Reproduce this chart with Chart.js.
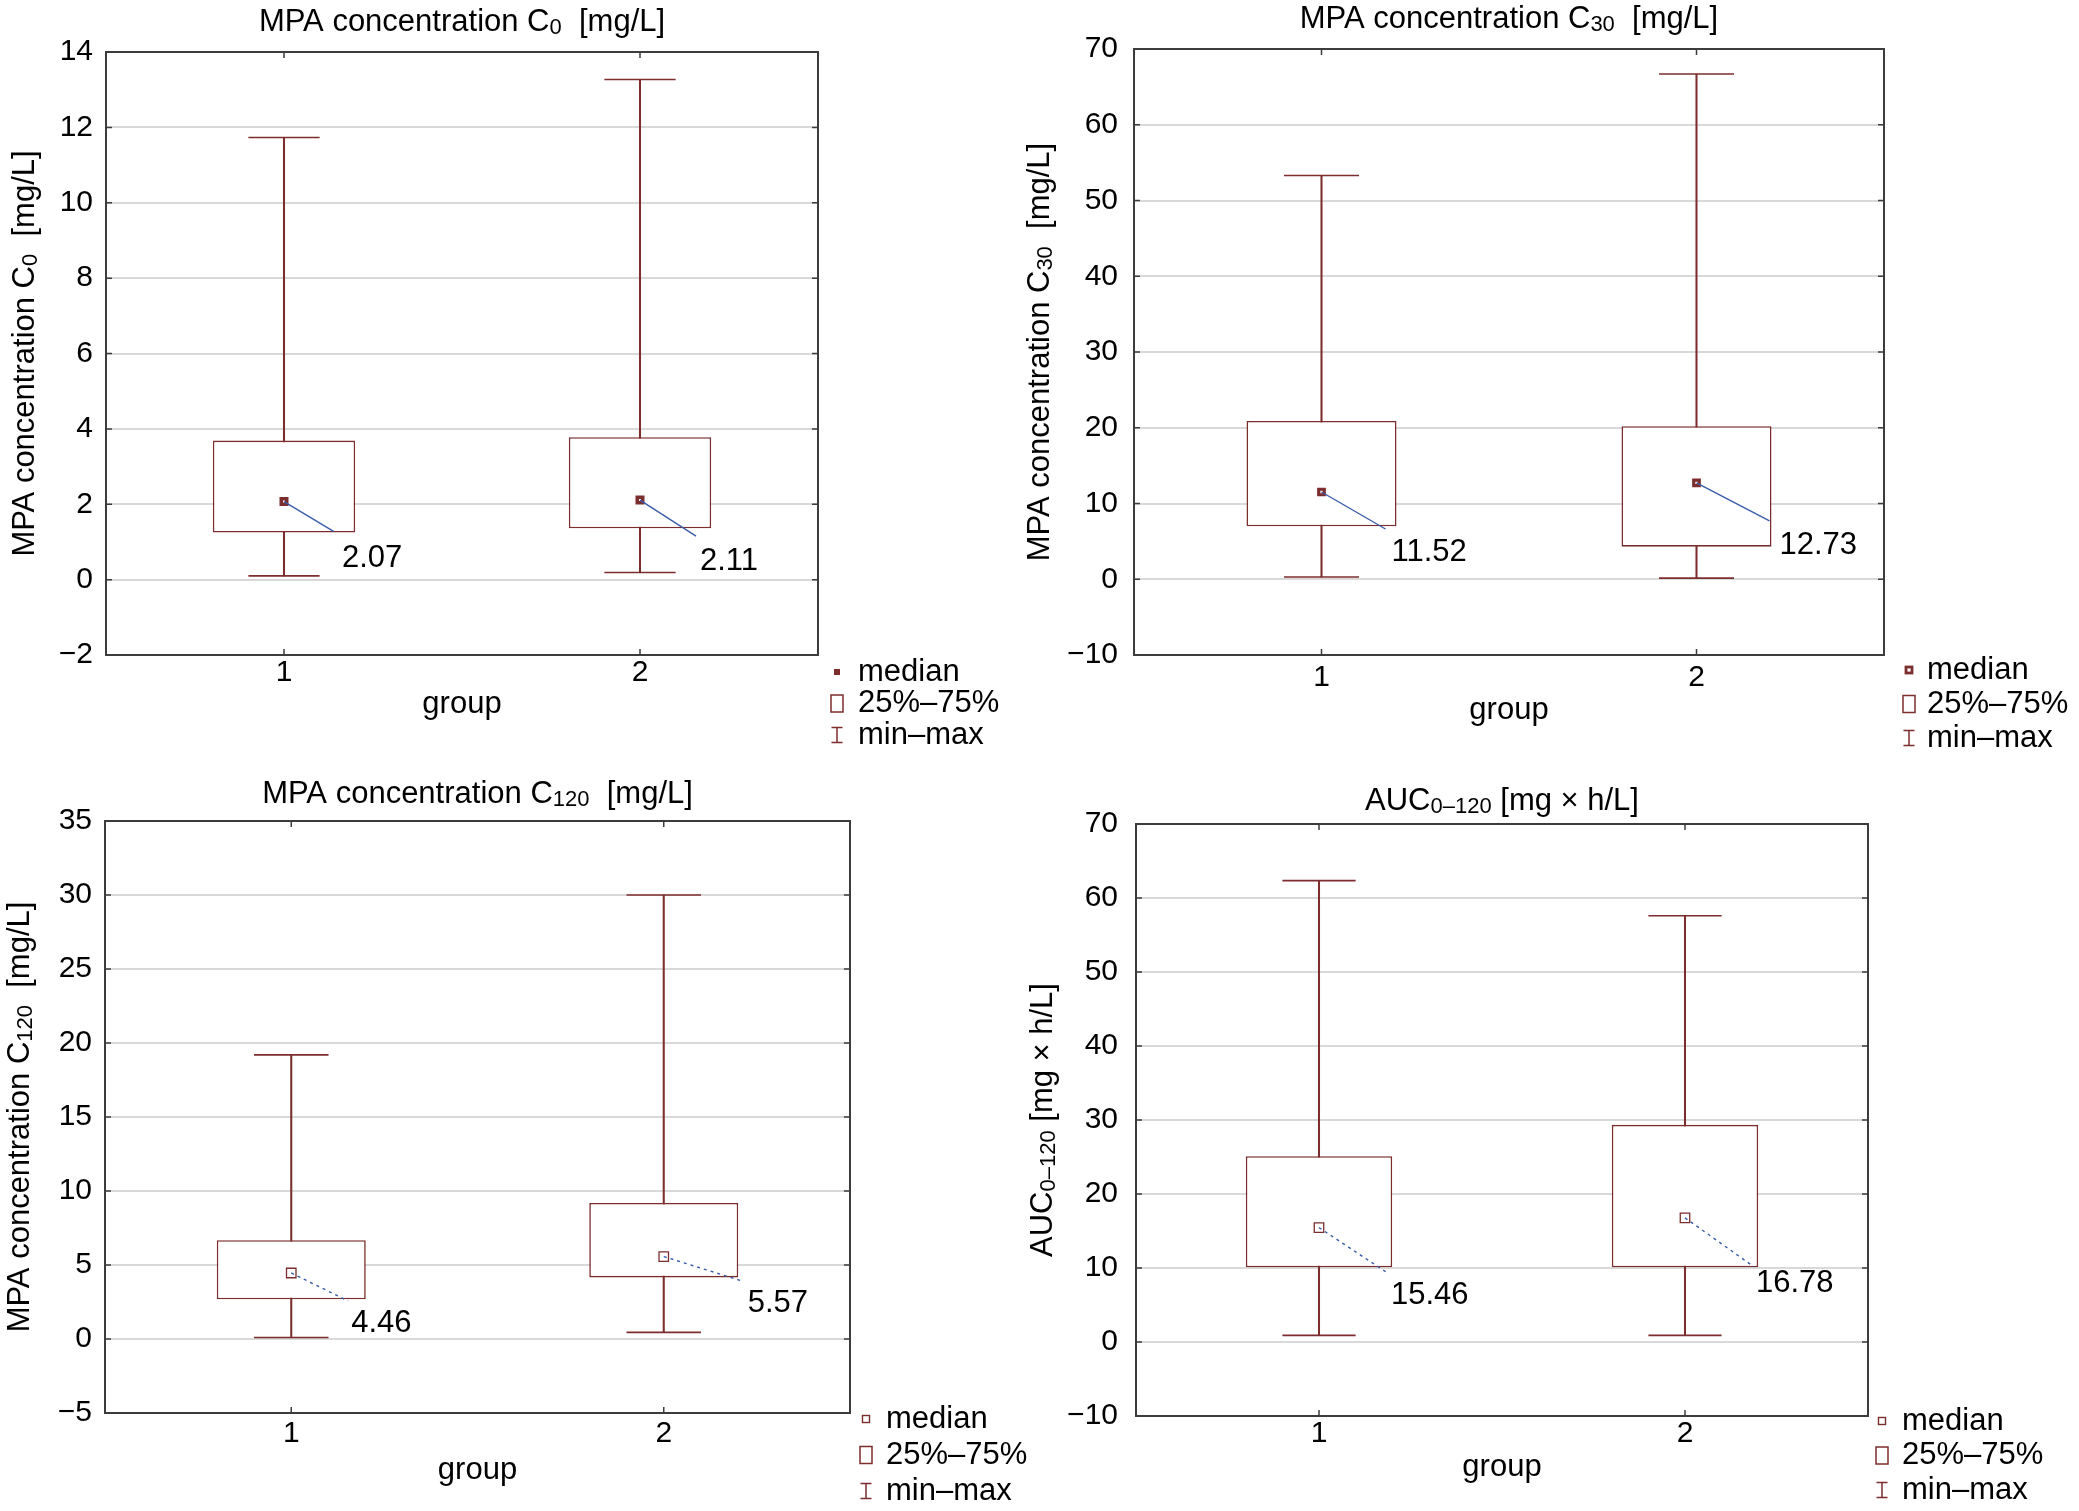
<!DOCTYPE html>
<html>
<head>
<meta charset="utf-8">
<script src="https://cdn.jsdelivr.net/npm/chart.js@4.4.1/dist/chart.umd.min.js"></script>
<style>
html,body{margin:0;padding:0;background:#fff;}
body{width:2079px;height:1511px;position:relative;overflow:hidden;}
canvas{position:absolute;display:block;}
</style>
</head>
<body>
<canvas id="c1" width="1015" height="760" style="left:0;top:0"></canvas>
<canvas id="c2" width="1064" height="760" style="left:1015px;top:0"></canvas>
<canvas id="c3" width="1040" height="751" style="left:0;top:760px"></canvas>
<canvas id="c4" width="1064" height="751" style="left:1015px;top:760px"></canvas>
<script>
// ---------------- DATA ----------------
const groups = ['1', '2'];
const legendLabels = ['median', '25%–75%', 'min–max'];
const xAxisTitle = 'group';

// title pieces: [text, isSubscript]
const c0Title = [['MPA concentration C', false], ['0', true], ['  [mg/L]', false]];
const c0Min = [0.10, 0.19];
const c0Q1 = [1.25, 1.36];
const c0Median = [2.07, 2.11];
const c0Q3 = [3.69, 3.78];
const c0Max = [11.73, 13.27];
const c0YTicks = [-2, 0, 2, 4, 6, 8, 10, 12, 14];

const c30Title = [['MPA concentration C', false], ['30', true], ['  [mg/L]', false]];
const c30Min = [0.30, 0.15];
const c30Q1 = [7.0, 4.3];
const c30Median = [11.52, 12.73];
const c30Q3 = [20.9, 20.2];
const c30Max = [53.3, 66.7];
const c30YTicks = [-10, 0, 10, 20, 30, 40, 50, 60, 70];

const c120Title = [['MPA concentration C', false], ['120', true], ['  [mg/L]', false]];
const c120Min = [0.10, 0.45];
const c120Q1 = [2.68, 4.16];
const c120Median = [4.46, 5.57];
const c120Q3 = [6.68, 9.19];
const c120Max = [19.2, 30.0];
const c120YTicks = [-5, 0, 5, 10, 15, 20, 25, 30, 35];

const aucTitle = [['AUC', false], ['0–120', true], [' [mg × h/L]', false]];
const aucMin = [0.9, 0.9];
const aucQ1 = [10.1, 10.1];
const aucMedian = [15.46, 16.78];
const aucQ3 = [25.1, 29.35];
const aucMax = [62.35, 57.6];
const aucYTicks = [-10, 0, 10, 20, 30, 40, 50, 60, 70];

// ---------------- STYLE ----------------
const FONT = '"Liberation Sans", Arial, "DejaVu Sans", sans-serif';
const FS = 31;
const TICK_FS = 30;
const SUB_FS = 22;
const SUB_SHIFT = 3;
const DARK_RED = '#7c2d2d';
const BLUE = '#3a5ca8';
const GRID = '#d9d9d9';
const FRAME = '#3c3c3c';
const BOX_PCT = 0.4;

Chart.defaults.font.family = FONT;
Chart.defaults.font.size = FS;
Chart.defaults.color = '#000';

const styles = {
  c1: {padT: 52, padR: 197, titleY: 20, yW: 106, yTitleX: 23, yTickPad: 13, xH: 105, xTickPad: 0, xTitlePad: 37,
       medR: 3.9, medBW: 3.5, medIcon: 'filled', dash: [], leaders: [[50, 30, 8, 27], [56, 36, 4, 25]],
       legend: {iconDx: 19, textDx: 40, rowDy: 17, rowStep: 31.5}},
  c2: {padT: 49, padR: 195, titleY: 16.5, yW: 119, yTitleX: 23, yTickPad: 16, xH: 105, xTickPad: 5, xTitlePad: 31,
       medR: 3.9, medBW: 3.2, medIcon: 'hollowThick', dash: [], leaders: [[64, 37, 6, 23], [73, 38, 10, 25]],
       legend: {iconDx: 25, textDx: 43, rowDy: 15, rowStep: 34}},
  c3: {padT: 61, padR: 190, titleY: 32, yW: 105, yTitleX: 18, yTickPad: 13, xH: 98, xTickPad: 3, xTitlePad: 22,
       medR: 6.7, medBW: 1.3, medIcon: 'hollow', dash: [3, 4], leaders: [[57, 28, 3, 22], [77, 24, 7, 23]],
       legend: {iconDx: 16, textDx: 36, rowDy: 6, rowStep: 36}},
  c4: {padT: 64, padR: 211, titleY: 39, yW: 121, yTitleX: 26, yTickPad: 18, xH: 95, xTickPad: 0, xTitlePad: 25,
       medR: 6.7, medBW: 1.3, medIcon: 'hollow', dash: [3, 4], leaders: [[68, 45, 4, 23], [69, 49, 2, 17]],
       legend: {iconDx: 14, textDx: 34, rowDy: 5, rowStep: 34.5}}
};

// ---------------- HELPERS ----------------
function drawRich(ctx, parts, cx, cy, rotation) {
  ctx.save();
  ctx.translate(cx, cy);
  ctx.rotate(rotation);
  const fonts = parts.map(p => (p[1] ? SUB_FS : FS) + 'px ' + FONT);
  const widths = parts.map((p, i) => { ctx.font = fonts[i]; return ctx.measureText(p[0]).width; });
  const total = widths.reduce((a, b) => a + b, 0);
  let x = -total / 2;
  const base = FS * 0.358;
  ctx.fillStyle = '#000';
  ctx.textAlign = 'left';
  ctx.textBaseline = 'alphabetic';
  parts.forEach((p, i) => {
    ctx.font = fonts[i];
    ctx.fillText(p[0], x, base + (p[1] ? SUB_SHIFT : 0));
    x += widths[i];
  });
  ctx.restore();
}

// ---------------- PLUGINS ----------------
const titlesPlugin = {
  id: 'richTitles',
  afterDraw(chart, args, opts) {
    const {ctx, chartArea: a} = chart;
    drawRich(ctx, opts.parts, (a.left + a.right) / 2, opts.titleY, 0);
    drawRich(ctx, opts.parts, opts.yTitleX, (a.top + a.bottom) / 2, -Math.PI / 2);
  }
};

const framePlugin = {
  id: 'frame',
  afterDraw(chart) {
    const {ctx, chartArea: a} = chart;
    const x = chart.scales.x, y = chart.scales.y;
    const TL = 6;
    ctx.save();
    ctx.strokeStyle = FRAME;
    ctx.lineWidth = 1.5;
    ctx.beginPath();
    y.ticks.forEach((t, i) => {
      const py = y.getPixelForTick(i);
      ctx.moveTo(a.left, py); ctx.lineTo(a.left + TL, py);
      ctx.moveTo(a.right, py); ctx.lineTo(a.right - TL, py);
    });
    x.ticks.forEach((t, i) => {
      const px = x.getPixelForTick(i);
      ctx.moveTo(px, a.top); ctx.lineTo(px, a.top + TL);
      ctx.moveTo(px, a.bottom); ctx.lineTo(px, a.bottom - TL);
    });
    ctx.stroke();
    ctx.lineWidth = 2;
    ctx.strokeRect(a.left, a.top, a.right - a.left, a.bottom - a.top);
    ctx.restore();
  }
};

const medianLabelPlugin = {
  id: 'medianLabels',
  afterDatasetsDraw(chart, args, opts) {
    const {ctx} = chart;
    const meta = chart.getDatasetMeta(opts.datasetIndex);
    const values = chart.data.datasets[opts.datasetIndex].data;
    ctx.save();
    meta.data.forEach((el, i) => {
      const [dx, dy, tx, ty] = opts.leaders[i];
      ctx.strokeStyle = BLUE;
      ctx.lineWidth = 1.4;
      ctx.setLineDash(opts.dash);
      ctx.beginPath();
      ctx.moveTo(el.x, el.y);
      ctx.lineTo(el.x + dx, el.y + dy);
      ctx.stroke();
      ctx.setLineDash([]);
      ctx.fillStyle = '#000';
      ctx.font = FS + 'px ' + FONT;
      ctx.textAlign = 'left';
      ctx.textBaseline = 'middle';
      ctx.fillText(values[i].toFixed(2), el.x + dx + tx, el.y + dy + ty);
    });
    ctx.restore();
  }
};

const boxLegendPlugin = {
  id: 'boxLegend',
  afterDraw(chart, args, opts) {
    const {ctx, chartArea: a} = chart;
    const L = opts.layout;
    ctx.save();
    opts.labels.forEach((text, i) => {
      const cx = a.right + L.iconDx;
      const cy = a.bottom + L.rowDy + i * L.rowStep;
      ctx.strokeStyle = DARK_RED;
      ctx.fillStyle = DARK_RED;
      if (i === 0) {
        if (opts.medIcon === 'filled') {
          ctx.fillRect(cx - 3, cy - 3, 6, 6);
        } else if (opts.medIcon === 'hollowThick') {
          ctx.lineWidth = 2.8;
          ctx.fillStyle = '#fff';
          ctx.fillRect(cx - 3, cy - 3, 6, 6);
          ctx.strokeRect(cx - 3, cy - 3, 6, 6);
        } else {
          ctx.lineWidth = 1.4;
          ctx.strokeRect(cx - 3.5, cy - 3.5, 7, 7);
        }
      } else if (i === 1) {
        ctx.lineWidth = 1.5;
        ctx.strokeRect(cx - 6, cy - 8.5, 12, 17);
      } else {
        ctx.lineWidth = 1.5;
        ctx.beginPath();
        ctx.moveTo(cx - 5.5, cy - 7.5); ctx.lineTo(cx + 5.5, cy - 7.5);
        ctx.moveTo(cx, cy - 7.5); ctx.lineTo(cx, cy + 7.5);
        ctx.moveTo(cx - 5.5, cy + 7.5); ctx.lineTo(cx + 5.5, cy + 7.5);
        ctx.stroke();
      }
      ctx.fillStyle = '#000';
      ctx.font = FS + 'px ' + FONT;
      ctx.textAlign = 'left';
      ctx.textBaseline = 'middle';
      ctx.fillText(text, a.right + L.textDx, cy);
    });
    ctx.restore();
  }
};

// ---------------- BUILDER ----------------
function makePanel(id, titleParts, mins, q1s, medians, q3s, maxs, yTicks) {
  const s = styles[id];
  const pairs = (lo, hi) => lo.map((v, i) => [v, hi[i]]);
  const capRadius = (c) => c.chart.scales.x.width / groups.length * BOX_PCT / 4;
  const minus = (v) => String(v).replace('-', '−');
  return new Chart(document.getElementById(id), {
    type: 'bar',
    data: {
      labels: groups,
      datasets: [
        {label: 'whisker', data: pairs(mins, maxs), backgroundColor: DARK_RED, borderWidth: 0,
         barThickness: 1.4, grouped: false, order: 4},
        {label: 'box', data: pairs(q1s, q3s), backgroundColor: '#ffffff', borderColor: DARK_RED, borderWidth: 1.6,
         borderSkipped: false, barPercentage: BOX_PCT, categoryPercentage: 1, grouped: false, order: 3},
        {type: 'line', label: 'max', data: maxs, showLine: false, pointStyle: 'line', pointRadius: capRadius,
         pointBorderColor: DARK_RED, pointBorderWidth: 1.6, order: 2},
        {type: 'line', label: 'min', data: mins, showLine: false, pointStyle: 'line', pointRadius: capRadius,
         pointBorderColor: DARK_RED, pointBorderWidth: 1.6, order: 2},
        {type: 'line', label: 'median', data: medians, showLine: false, pointStyle: 'rect', pointRadius: s.medR,
         pointBackgroundColor: '#ffffff', pointBorderColor: DARK_RED, pointBorderWidth: s.medBW, order: 1}
      ]
    },
    options: {
      responsive: false,
      animation: false,
      events: [],
      layout: {padding: {left: 0, top: s.padT, right: s.padR, bottom: 0}},
      plugins: {
        legend: {display: false},
        tooltip: {enabled: false},
        title: {display: false},
        richTitles: {parts: titleParts, titleY: s.titleY, yTitleX: s.yTitleX},
        medianLabels: {datasetIndex: 4, leaders: s.leaders, dash: s.dash},
        boxLegend: {labels: legendLabels, layout: s.legend, medIcon: s.medIcon}
      },
      scales: {
        x: {
          offset: true,
          grid: {display: false, drawTicks: false},
          border: {display: false},
          ticks: {color: '#000', font: {size: TICK_FS}, padding: s.xTickPad},
          title: {display: true, text: xAxisTitle, color: '#000', font: {size: FS, lineHeight: 1.2},
                  padding: {top: 0, bottom: s.xTitlePad}},
          afterFit: (sc) => { sc.height = s.xH; }
        },
        y: {
          min: yTicks[0],
          max: yTicks[yTicks.length - 1],
          afterBuildTicks: (sc) => { sc.ticks = yTicks.map(v => ({value: v})); },
          grid: {color: GRID, lineWidth: 2, drawTicks: false},
          border: {display: false},
          ticks: {color: '#000', font: {size: TICK_FS}, padding: s.yTickPad, callback: minus},
          title: {display: false},
          afterFit: (sc) => { sc.width = s.yW; }
        }
      }
    },
    plugins: [framePlugin, medianLabelPlugin, boxLegendPlugin, titlesPlugin]
  });
}

makePanel('c1', c0Title, c0Min, c0Q1, c0Median, c0Q3, c0Max, c0YTicks);
makePanel('c2', c30Title, c30Min, c30Q1, c30Median, c30Q3, c30Max, c30YTicks);
makePanel('c3', c120Title, c120Min, c120Q1, c120Median, c120Q3, c120Max, c120YTicks);
makePanel('c4', aucTitle, aucMin, aucQ1, aucMedian, aucQ3, aucMax, aucYTicks);
</script>
</body>
</html>
